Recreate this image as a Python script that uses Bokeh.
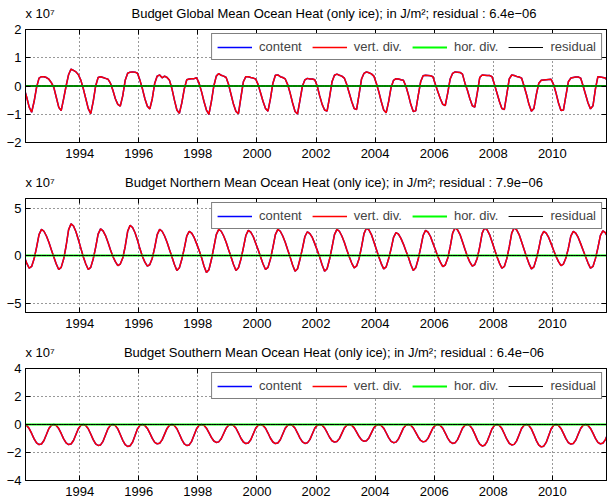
from bokeh.plotting import figure
from bokeh.models import (Range1d, FixedTicker, Legend, LegendItem, Title, LinearAxis,
                          GlobalInlineStyleSheet)
from bokeh.layouts import column, row
from bokeh.embed import file_html
from bokeh.resources import INLINE

# ---------------- data (units of 1e7 J/m^2), monthly Jan 1992 .. Dec 2011 ----------------
years = list(range(1992, 2012))
time = [yr + (m + 0.5) / 12 for yr in years for m in range(12)]

global_content = [
    0.10, -0.10, -0.40, -0.75, -0.93, -0.55, -0.05, 0.28, 0.33, 0.33, 0.30, 0.24,   # 1992
    0.12, -0.05, -0.40, -0.75, -0.87, -0.45, 0.00, 0.40, 0.60, 0.55, 0.50, 0.40,    # 1993
    0.20, -0.10, -0.45, -0.80, -0.98, -0.55, 0.00, 0.30, 0.33, 0.30, 0.27, 0.24,    # 1994
    0.10, -0.15, -0.45, -0.65, -0.71, -0.35, 0.20, 0.45, 0.49, 0.50, 0.49, 0.45,    # 1995
    0.20, -0.10, -0.45, -0.72, -0.81, -0.45, 0.10, 0.35, 0.39, 0.29, 0.35, 0.30,    # 1996
    0.20, -0.10, -0.50, -0.85, -0.97, -0.60, -0.10, 0.22, 0.25, 0.26, 0.26, 0.29,   # 1997
    0.10, -0.20, -0.55, -0.85, -1.00, -0.55, 0.00, 0.35, 0.44, 0.38, 0.35, 0.30,    # 1998
    0.05, -0.30, -0.65, -0.90, -0.98, -0.40, 0.15, 0.33, 0.33, 0.30, 0.28, 0.25,    # 1999
    0.05, -0.25, -0.55, -0.80, -0.89, -0.45, 0.10, 0.38, 0.39, 0.33, 0.30, 0.25,    # 2000
    0.05, -0.25, -0.60, -0.90, -0.99, -0.50, 0.00, 0.22, 0.27, 0.25, 0.25, 0.22,    # 2001
    0.00, -0.35, -0.65, -0.85, -0.89, -0.40, 0.15, 0.38, 0.42, 0.38, 0.35, 0.28,    # 2002
    0.05, -0.25, -0.55, -0.80, -0.83, -0.30, 0.25, 0.45, 0.50, 0.47, 0.43, 0.35,    # 2003
    0.10, -0.20, -0.55, -0.85, -0.95, -0.55, -0.05, 0.20, 0.26, 0.25, 0.22, 0.20,   # 2004
    0.00, -0.30, -0.65, -0.90, -0.88, -0.35, 0.15, 0.36, 0.38, 0.37, 0.36, 0.33,    # 2005
    0.05, -0.20, -0.45, -0.65, -0.69, -0.25, 0.25, 0.45, 0.50, 0.49, 0.48, 0.42,    # 2006
    0.10, -0.15, -0.45, -0.70, -0.75, -0.25, 0.30, 0.39, 0.38, 0.37, 0.37, 0.33,    # 2007
    0.05, -0.25, -0.55, -0.80, -0.83, -0.30, 0.25, 0.39, 0.37, 0.34, 0.32, 0.28,    # 2008
    0.00, -0.30, -0.65, -0.89, -0.80, -0.30, 0.10, 0.20, 0.21, 0.22, 0.23, 0.24,    # 2009
    0.05, -0.25, -0.60, -0.87, -0.85, -0.35, 0.15, 0.28, 0.30, 0.32, 0.32, 0.28,    # 2010
    0.00, -0.30, -0.60, -0.81, -0.70, -0.10, 0.33, 0.32, 0.30, 0.28, 0.20, 0.10,    # 2011
]
global_vertdiv = list(global_content)

north_content = [
    0.60, -0.15, -0.80, -1.34, -1.15, -0.35, 0.85, 2.20, 2.75, 2.55, 2.05, 1.40,    # 1992
    0.60, -0.15, -0.90, -1.48, -1.25, -0.37, 1.00, 2.70, 3.35, 3.10, 2.50, 1.65,    # 1993
    0.75, -0.15, -0.90, -1.48, -1.25, -0.37, 0.85, 2.25, 2.80, 2.60, 2.10, 1.40,    # 1994
    0.60, -0.10, -0.65, -1.06, -0.90, -0.27, 0.95, 2.55, 3.17, 2.95, 2.40, 1.60,    # 1995
    0.70, -0.10, -0.70, -1.13, -0.95, -0.28, 0.85, 2.20, 2.75, 2.55, 2.05, 1.40,    # 1996
    0.60, -0.15, -0.95, -1.58, -1.30, -0.40, 0.75, 2.05, 2.54, 2.35, 1.90, 1.25,    # 1997
    0.55, -0.20, -1.10, -1.80, -1.50, -0.45, 0.85, 2.20, 2.75, 2.55, 2.05, 1.40,    # 1998
    0.60, -0.15, -0.95, -1.58, -1.30, -0.40, 0.80, 2.10, 2.64, 2.45, 2.00, 1.30,    # 1999
    0.60, -0.15, -0.90, -1.48, -1.25, -0.37, 0.85, 2.20, 2.75, 2.55, 2.05, 1.40,    # 2000
    0.60, -0.17, -1.00, -1.65, -1.40, -0.40, 0.75, 2.00, 2.50, 2.30, 1.90, 1.25,    # 2001
    0.55, -0.17, -1.00, -1.65, -1.40, -0.40, 0.85, 2.20, 2.75, 2.55, 2.05, 1.40,    # 2002
    0.60, -0.13, -0.80, -1.30, -1.10, -0.33, 0.90, 2.30, 2.90, 2.70, 2.20, 1.45,    # 2003
    0.65, -0.14, -0.85, -1.41, -1.20, -0.35, 0.70, 1.90, 2.40, 2.25, 1.80, 1.20,    # 2004
    0.50, -0.16, -0.95, -1.58, -1.30, -0.40, 0.80, 2.10, 2.64, 2.45, 2.00, 1.30,    # 2005
    0.60, -0.12, -0.70, -1.16, -1.00, -0.30, 0.90, 2.35, 2.92, 2.70, 2.20, 1.45,    # 2006
    0.65, -0.10, -0.70, -1.13, -0.95, -0.28, 0.90, 2.35, 2.92, 2.70, 2.20, 1.45,    # 2007
    0.65, -0.13, -0.80, -1.34, -1.15, -0.33, 0.90, 2.35, 2.92, 2.70, 2.20, 1.45,    # 2008
    0.65, -0.14, -0.85, -1.41, -1.20, -0.35, 0.75, 2.05, 2.54, 2.35, 1.90, 1.25,    # 2009
    0.55, -0.10, -0.65, -1.06, -0.90, -0.27, 0.75, 2.05, 2.54, 2.35, 1.90, 1.25,    # 2010
    0.55, -0.13, -0.80, -1.34, -1.15, -0.33, 0.80, 2.10, 2.60, 2.40, 1.95, 1.30,    # 2011
]
north_vertdiv = list(north_content)

south_content = [
    -0.06, 0.00, -0.07, -0.29, -0.64, -1.03, -1.32, -1.43, -1.39, -1.14, -0.72, -0.29,  # 1992
    -0.06, 0.00, -0.07, -0.29, -0.64, -1.03, -1.32, -1.43, -1.39, -1.14, -0.72, -0.29,  # 1993
    -0.06, 0.00, -0.08, -0.30, -0.68, -1.08, -1.38, -1.50, -1.46, -1.20, -0.75, -0.30,  # 1994
    -0.06, 0.00, -0.08, -0.31, -0.71, -1.13, -1.44, -1.57, -1.52, -1.26, -0.79, -0.31,  # 1995
    -0.06, 0.00, -0.07, -0.28, -0.62, -0.99, -1.27, -1.38, -1.34, -1.10, -0.69, -0.28,  # 1996
    -0.06, 0.00, -0.08, -0.30, -0.68, -1.08, -1.38, -1.50, -1.46, -1.20, -0.75, -0.30,  # 1997
    -0.06, 0.00, -0.06, -0.26, -0.58, -0.92, -1.18, -1.28, -1.24, -1.02, -0.64, -0.26,  # 1998
    -0.05, 0.00, -0.07, -0.27, -0.61, -0.98, -1.25, -1.36, -1.32, -1.09, -0.68, -0.27,  # 1999
    -0.05, 0.00, -0.07, -0.27, -0.61, -0.98, -1.25, -1.36, -1.32, -1.09, -0.68, -0.27,  # 2000
    -0.05, 0.00, -0.07, -0.27, -0.61, -0.97, -1.24, -1.35, -1.31, -1.08, -0.68, -0.27,  # 2001
    -0.05, 0.00, -0.06, -0.25, -0.57, -0.91, -1.16, -1.26, -1.22, -1.01, -0.63, -0.25,  # 2002
    -0.05, 0.00, -0.06, -0.24, -0.54, -0.86, -1.10, -1.20, -1.16, -0.96, -0.60, -0.24,  # 2003
    -0.05, 0.00, -0.07, -0.26, -0.59, -0.94, -1.20, -1.30, -1.26, -1.04, -0.65, -0.26,  # 2004
    -0.05, 0.00, -0.06, -0.25, -0.56, -0.89, -1.14, -1.24, -1.20, -0.99, -0.62, -0.25,  # 2005
    -0.05, 0.00, -0.07, -0.27, -0.61, -0.97, -1.24, -1.35, -1.31, -1.08, -0.68, -0.27,  # 2006
    -0.05, 0.00, -0.08, -0.31, -0.69, -1.10, -1.41, -1.53, -1.48, -1.22, -0.77, -0.31,  # 2007
    -0.06, 0.00, -0.07, -0.29, -0.66, -1.05, -1.34, -1.46, -1.42, -1.17, -0.73, -0.29,  # 2008
    -0.06, 0.00, -0.08, -0.32, -0.72, -1.15, -1.47, -1.60, -1.55, -1.28, -0.80, -0.32,  # 2009
    -0.06, 0.00, -0.07, -0.28, -0.63, -1.01, -1.29, -1.40, -1.36, -1.12, -0.70, -0.28,  # 2010
    -0.06, 0.00, -0.07, -0.28, -0.62, -0.99, -1.27, -1.38, -1.34, -1.10, -0.69, -0.28,  # 2011
]
south_vertdiv = list(south_content)

hor_div = [0.0] * len(time)
residual = [0.0] * len(time)

titles = [
    "Budget Global Mean Ocean Heat (only ice); in J/m\u00b2; residual : 6.4e\u221206",
    "Budget Northern Mean Ocean Heat (only ice); in J/m\u00b2; residual : 7.9e\u221206",
    "Budget Southern Mean Ocean Heat (only ice); in J/m\u00b2; residual : 6.4e\u221206",
]
legend_labels = ["content", "vert. div.", "hor. div.", "residual"]
x_ticks = [1994, 1996, 1998, 2000, 2002, 2004, 2006, 2008, 2010]
y_ticks = [[-2, -1, 0, 1, 2], [-5, 0, 5], [-4, -2, 0, 2, 4]]
y_limits = [(-2, 2), (-6, 6), (-4, 4)]
multiplier = "x 10\u2077"

# ---------------- styling ----------------
FONT = "Liberation Sans"
X0, X1 = 1992.167, 2011.833
W = 607
MW = 60     # width of the header piece that holds the multiplier
TOP = 8     # space above each box kept inside the panel figure (room for the top tick label)


def lbl(v):
    return ("\u2212%g" % -v) if v < 0 else "%g" % v


def style_axis(ax, ticks, labelled=True):
    ax.ticker = FixedTicker(ticks=ticks)
    ax.axis_line_color = "black"
    ax.axis_line_width = 1
    ax.major_tick_line_color = "black"
    ax.major_tick_in = 5
    ax.major_tick_out = 0
    ax.minor_tick_line_color = None
    ax.major_label_text_font = FONT
    ax.major_label_text_color = "black"
    if labelled:
        ax.major_label_text_font_size = "13px"
        ax.major_label_overrides = {t: lbl(t) for t in ticks}
    else:
        # box edge with inward ticks only: labels are not painted
        ax.major_label_text_font_size = "1px"
        ax.major_label_text_alpha = 0
        ax.major_label_standoff = 0


def text_strip(text, w, h, left, align, offset):
    """A figure with an empty 1px frame whose title carries a header text."""
    hp = figure(width=w, height=h, output_backend="svg", toolbar_location=None,
                x_axis_type=None, y_axis_type=None,
                x_range=Range1d(0, 1), y_range=Range1d(0, 1),
                min_border_left=left, min_border_right=0,
                min_border_top=h - 1, min_border_bottom=0)
    hp.grid.visible = False
    hp.outline_line_color = None
    hp.background_fill_color = "white"
    hp.border_fill_color = "white"
    hp.title = Title(text=text, align=align, offset=offset, standoff=0,
                     vertical_align="bottom", text_font=FONT, text_font_size="13px",
                     text_font_style="normal", text_color="black")
    return hp


def header(title, h):
    m = text_strip(multiplier, MW, h, 25, "left", 0)
    t = text_strip(title, W - MW, h, 0, "center", -15)
    return row(m, t, spacing=0)


def panel(content, vdiv, ylim, yt, height, bbot):
    p = figure(width=W, height=height, output_backend="svg", toolbar_location=None,
               x_range=Range1d(X0, X1), y_range=Range1d(*ylim),
               min_border_left=25, min_border_right=1,
               min_border_top=TOP, min_border_bottom=bbot)
    p.background_fill_color = "white"
    p.border_fill_color = "white"
    p.outline_line_color = "black"
    p.outline_line_width = 1

    style_axis(p.xaxis[0], x_ticks)
    style_axis(p.yaxis[0], yt)
    p.xaxis[0].major_label_standoff = 6
    p.yaxis[0].major_label_standoff = 4

    top_ax = LinearAxis()
    right_ax = LinearAxis()
    style_axis(top_ax, x_ticks, labelled=False)
    style_axis(right_ax, yt, labelled=False)
    p.add_layout(top_ax, "above")
    p.add_layout(right_ax, "right")

    for g, ticks in ((p.xgrid[0], x_ticks), (p.ygrid[0], yt)):
        g.ticker = FixedTicker(ticks=ticks)
        g.grid_line_color = "#333333"
        g.grid_line_dash = "1 3"
        g.grid_line_width = 1

    r1 = p.line(time, content, color="#0000ff", line_width=1.5)
    r2 = p.line(time, vdiv, color="#ff0000", line_width=1.5)
    r3 = p.line(time, hor_div, color="#00ff00", line_width=2)
    r4 = p.line(time, residual, color="black", line_width=1)

    legend = Legend(items=[LegendItem(label=l, renderers=[r]) for l, r in
                           zip(legend_labels, [r1, r2, r3, r4])],
                    orientation="horizontal", location="top_right",
                    label_text_font=FONT, label_text_font_size="13px",
                    glyph_width=35, glyph_height=12, label_height=12,
                    label_standoff=7, spacing=10, padding=5, margin=4,
                    border_line_color="black", border_line_width=1,
                    background_fill_color="white", background_fill_alpha=1)
    p.add_layout(legend)
    return p


# box tops at 29, 198, 368 px; bottoms at 142, 312, 480 px
h1 = header(titles[0], 29 - TOP)
f1 = panel(global_content, global_vertdiv, y_limits[0], y_ticks[0], TOP + 113 + 23, 23)
h2 = header(titles[1], 33 - TOP)
f2 = panel(north_content, north_vertdiv, y_limits[1], y_ticks[1], TOP + 114 + 22, 22)
h3 = header(titles[2], 34 - TOP)
f3 = panel(south_content, south_vertdiv, y_limits[2], y_ticks[2], TOP + 112 + 22, 22)

layout = column(h1, f1, h2, f2, h3, f3, spacing=0,
                stylesheets=[GlobalInlineStyleSheet(css="html, body { overflow: hidden; }")])

open("out.html", "w").write(file_html(layout, INLINE))
